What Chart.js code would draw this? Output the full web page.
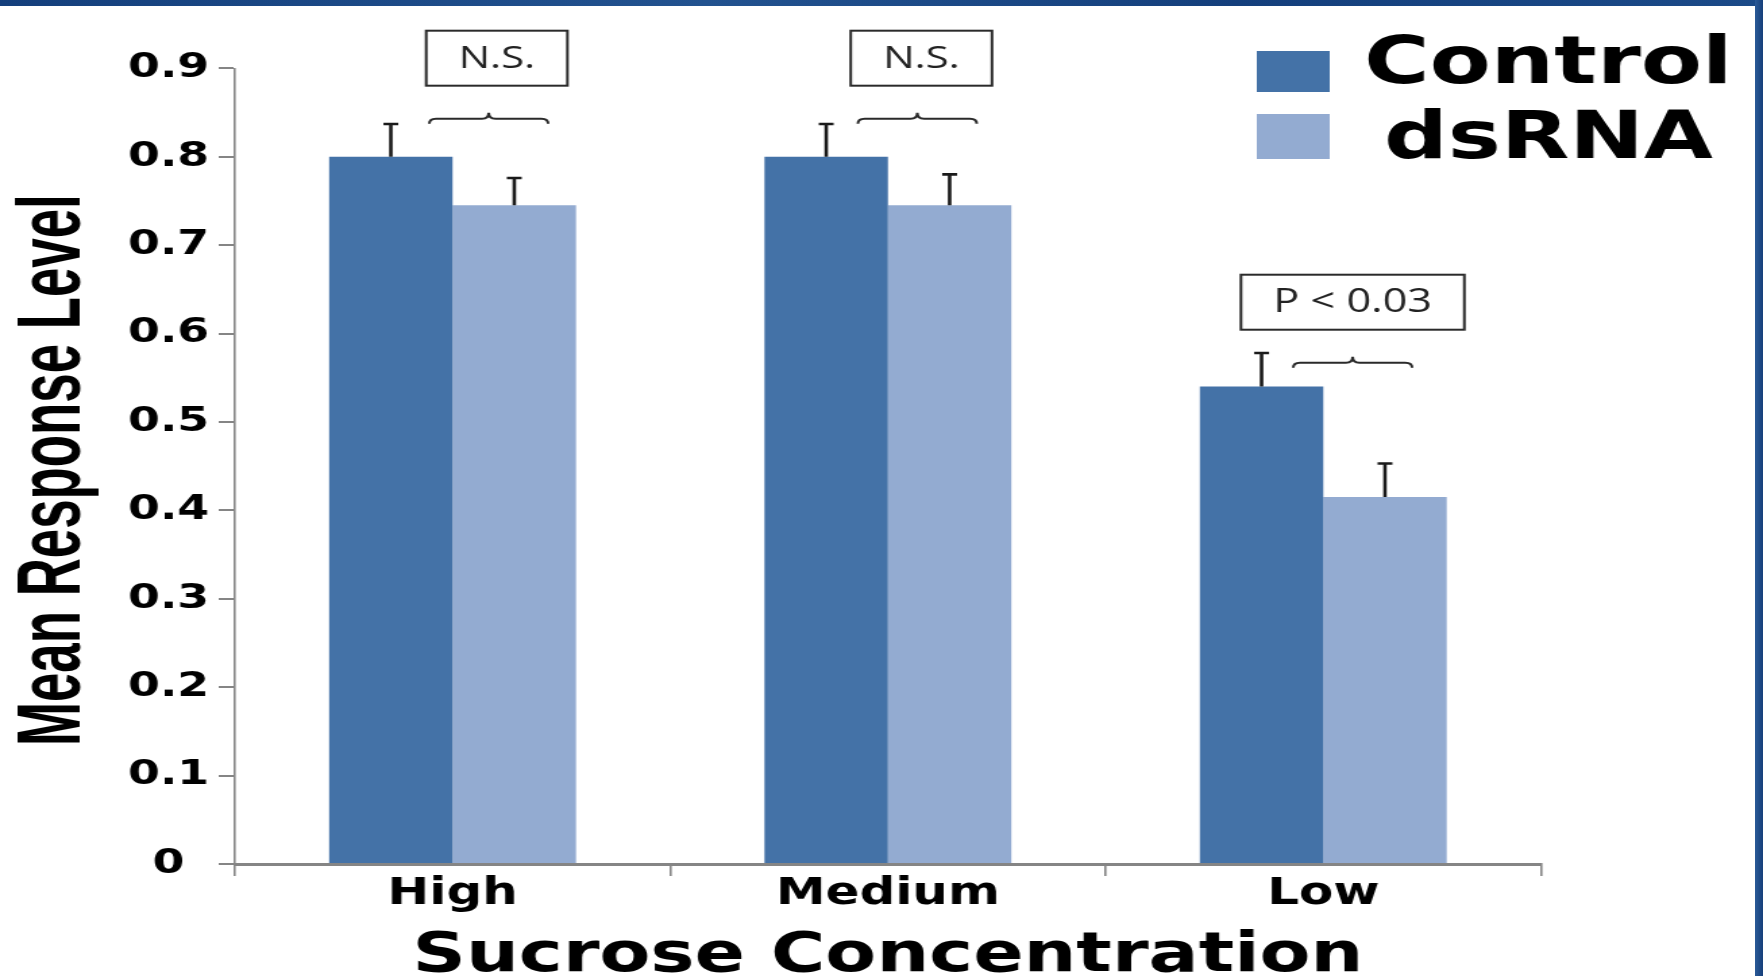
<!DOCTYPE html>
<html>
<head>
<meta charset="utf-8">
<title>Mean Response Level</title>
<script src="https://cdn.jsdelivr.net/npm/chart.js@4.4.1/dist/chart.umd.min.js"></script>
<style>
    html, body { margin: 0; padding: 0; background: #fff; overflow: hidden; }
    #frame { position: relative; width: 1763px; height: 976px; background: #fff; }
    #frame canvas { position: absolute; left: 0; top: 0; }
    #topband { position: absolute; left: 0; top: 0; width: 1763px; height: 6px;
        background: linear-gradient(90deg, #143f7c, #22528f 40%, #143f7c 70%, #1b4a88); }
    #rightband { position: absolute; right: 0; top: 0; width: 8px; height: 976px;
        background: linear-gradient(90deg, #2a5a98, #163f7a); }
</style>
</head>
<body>
<div id="frame">
    <!-- drawn narrower and stretched, the source picture is stretched sideways -->
    <canvas id="barchart" width="1306" height="976" style="width:1763px;height:976px"></canvas>
    <div id="topband"></div>
    <div id="rightband"></div>
</div>
<script>
var categories = ['High', 'Medium', 'Low'];
var controlValues = [0.80, 0.80, 0.54];
var dsrnaValues = [0.745, 0.745, 0.415];
var controlErrors = [0.037, 0.037, 0.038];
var dsrnaErrors = [0.031, 0.035, 0.038];
var yTicks = [0, 0.1, 0.2, 0.3, 0.4, 0.5, 0.6, 0.7, 0.8, 0.9];
var yTickLabels = ['0', '0.1', '0.2', '0.3', '0.4', '0.5', '0.6', '0.7', '0.8', '0.9'];
var noteTexts = ['N.S.', 'N.S.', 'P < 0.03'];
var yTitle = 'Mean Response Level';

// upper whiskers only
var errorBars = {
    id: 'errorBars',
    afterDatasetsDraw: function(chart) {
        var ctx = chart.ctx;
        var yScale = chart.scales.y;
        chart.data.datasets.forEach(function(ds, di) {
            var meta = chart.getDatasetMeta(di);
            meta.data.forEach(function(bar, i) {
                var top = yScale.getPixelForValue(ds.data[i] + ds.errors[i]);
                ctx.save();
                ctx.strokeStyle = '#1a1a1a';
                ctx.lineWidth = 2.6;
                ctx.beginPath();
                ctx.moveTo(bar.x, bar.y);
                ctx.lineTo(bar.x, top);
                ctx.moveTo(bar.x - 5.5, top);
                ctx.lineTo(bar.x + 5.5, top);
                ctx.stroke();
                ctx.restore();
            });
        });
    }
};

// braces and boxed significance labels
var sigNotes = {
    id: 'sigNotes',
    afterDatasetsDraw: function(chart, args, opts) {
        var ctx = chart.ctx;
        var xScale = chart.scales.x;
        var yScale = chart.scales.y;
        var cw = xScale.getPixelForValue(1) - xScale.getPixelForValue(0);
        noteTexts.forEach(function(text, i) {
            var cx = xScale.getPixelForValue(i) + opts.braceShift[i];
            var x0 = cx - 0.069 * cw;
            var x1 = cx + 0.204 * cw;
            var xm = (x0 + x1) / 2;
            var yb = yScale.getPixelForValue(opts.levels[i]);
            ctx.save();
            ctx.strokeStyle = '#2a2a2a';
            ctx.lineWidth = 2;
            ctx.beginPath();
            ctx.moveTo(x0, yb + 5);
            ctx.quadraticCurveTo(x0, yb, x0 + 5, yb);
            ctx.lineTo(xm - 5, yb);
            ctx.quadraticCurveTo(xm, yb, xm, yb - 6);
            ctx.quadraticCurveTo(xm, yb, xm + 5, yb);
            ctx.lineTo(x1 - 5, yb);
            ctx.quadraticCurveTo(x1, yb, x1, yb + 5);
            ctx.stroke();

            ctx.font = opts.sizes[i] + 'px "Open Sans", "DejaVu Sans", sans-serif';
            var tw = ctx.measureText(text).width;
            var bw = tw + 48;
            var bh = 55;
            var bx = xm + opts.boxShift[i];
            var bTop = yb - 6 - 27 - bh;
            ctx.fillStyle = '#fff';
            ctx.fillRect(bx - bw / 2, bTop, bw, bh);
            ctx.strokeRect(bx - bw / 2, bTop, bw, bh);
            ctx.fillStyle = '#222';
            ctx.textAlign = 'center';
            ctx.textBaseline = 'middle';
            ctx.fillText(text, bx, bTop + bh / 2 + 1);
            ctx.restore();
        });
    }
};

// legend in the top right corner
var cornerLegend = {
    id: 'cornerLegend',
    afterDraw: function(chart) {
        var ctx = chart.ctx;
        var rows = [{ top: 51, h: 41, base: 83 }, { top: 114, h: 45, base: 158 }];
        ctx.save();
        chart.data.datasets.forEach(function(ds, i) {
            var r = rows[i];
            ctx.fillStyle = ds.backgroundColor;
            ctx.fillRect(931, r.top, 54, r.h);
            ctx.fillStyle = '#000';
            ctx.font = 'bold 66px "DejaVu Sans", sans-serif';
            ctx.textAlign = 'center';
            ctx.textBaseline = 'alphabetic';
            ctx.fillText(ds.label, 1147, r.base);
        });
        ctx.restore();
    }
};

// narrow rotated y title (no condensed Arial installed)
var narrowYTitle = {
    id: 'narrowYTitle',
    afterDraw: function(chart) {
        var ctx = chart.ctx;
        var area = chart.chartArea;
        ctx.save();
        ctx.translate(58.5, (area.top + area.bottom) / 2 + 4);
        ctx.rotate(-Math.PI / 2);
        ctx.scale(0.8, 1);
        ctx.fillStyle = '#000';
        ctx.font = 'bold 66px "Liberation Sans", Arial, sans-serif';
        ctx.textAlign = 'center';
        ctx.textBaseline = 'alphabetic';
        ctx.fillText(yTitle, 0, 0);
        ctx.restore();
    }
};

var ctx = document.getElementById('barchart');
var chart = new Chart(ctx, {
    type: 'bar',
    data: {
        labels: categories,
        datasets: [{
            label: 'Control',
            data: controlValues,
            errors: controlErrors,
            backgroundColor: '#4472a7',
            borderWidth: 0
        }, {
            label: 'dsRNA',
            data: dsrnaValues,
            errors: dsrnaErrors,
            backgroundColor: '#93abd1',
            borderWidth: 0
        }]
    },
    options: {
        responsive: false,
        devicePixelRatio: 1,
        animation: false,
        layout: { padding: { left: 0, right: 164.5, top: 68.3, bottom: 0 } },
        datasets: { bar: { categoryPercentage: 0.567, barPercentage: 1 } },
        plugins: {
            legend: { display: false },
            tooltip: { enabled: false },
            sigNotes: {
                levels: [0.843, 0.843, 0.567],
                sizes: [31, 31, 32],
                braceShift: [5, 0, 0],
                boxShift: [6, 3, 0]
            }
        },
        scales: {
            x: {
                grid: { display: true, offset: true, drawOnChartArea: false, drawTicks: true,
                    tickLength: 12, color: '#858585', lineWidth: 1.6 },
                border: { display: true, color: '#858585', width: 3 },
                ticks: {
                    color: '#000',
                    padding: 0,
                    font: { family: 'DejaVu Sans', weight: 'bold', size: 37, lineHeight: 1 }
                },
                title: {
                    display: true,
                    text: 'Sucrose Concentration',
                    color: '#000',
                    padding: 0,
                    font: { family: 'DejaVu Sans', weight: 'bold', size: 55, lineHeight: 0.7 }
                },
                afterFit: function(scale) { scale.height = 112; }
            },
            y: {
                min: 0,
                max: 0.9,
                afterBuildTicks: function(axis) {
                    axis.ticks = yTicks.map(function(v) { return { value: v }; });
                },
                grid: { drawOnChartArea: false, drawTicks: true, tickLength: 12,
                    color: '#858585', lineWidth: 2 },
                border: { display: true, color: '#858585', width: 1.6 },
                ticks: {
                    color: '#000',
                    padding: 7,
                    crossAlign: 'center',
                    font: { family: 'DejaVu Sans', weight: 'bold', size: 34 },
                    callback: function(value, index) { return yTickLabels[index]; }
                },
                afterFit: function(scale) { scale.width = 174; }
            }
        }
    },
    plugins: [errorBars, sigNotes, cornerLegend, narrowYTitle]
});
</script>
</body>
</html>
